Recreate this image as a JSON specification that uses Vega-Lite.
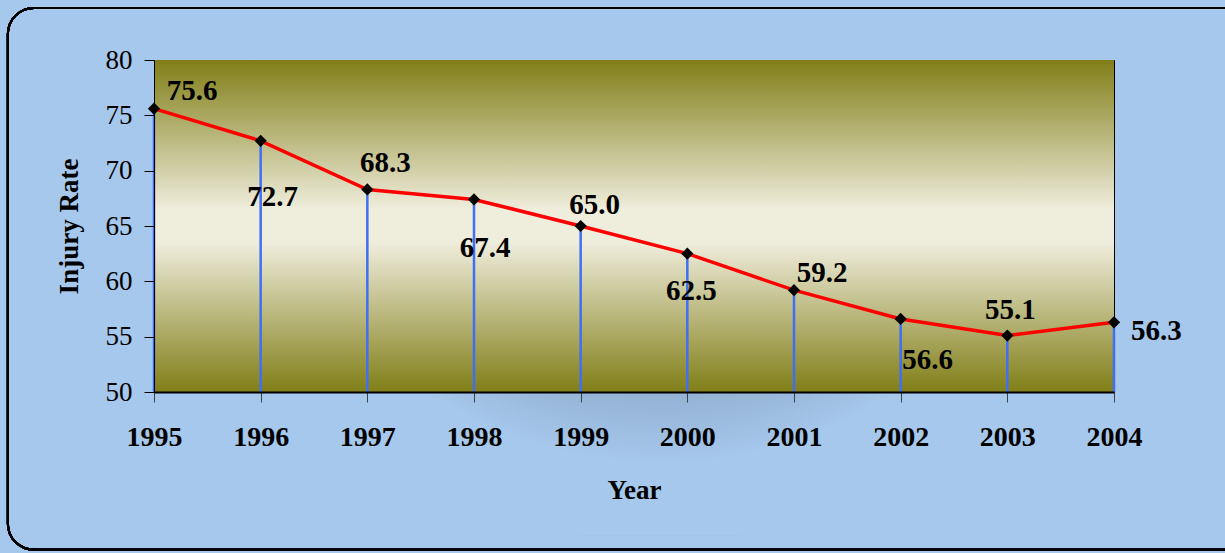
{
  "$schema": "https://vega.github.io/schema/vega-lite/v6.json",
  "width": 960,
  "height": 332,
  "autosize": {"type": "none"},
  "padding": {"left": 154, "top": 60, "right": 111, "bottom": 161},
  "background": "#a6c8ec",
  "config": {
    "view": {"stroke": "#000000", "strokeWidth": 1},
    "font": "Liberation Serif",
    "axis": {"grid": false, "labelFont": "Liberation Serif", "titleFont": "Liberation Serif", "labelColor": "#000000", "titleColor": "#000000"},
    "text": {"font": "Liberation Serif", "fontWeight": "bold", "fontSize": 29, "align": "center", "baseline": "alphabetic", "color": "#000000"}
  },
  "datasets": {
    "injury": [
      {"year": 1995, "rate": 75.6},
      {"year": 1996, "rate": 72.7},
      {"year": 1997, "rate": 68.3},
      {"year": 1998, "rate": 67.4},
      {"year": 1999, "rate": 65.0},
      {"year": 2000, "rate": 62.5},
      {"year": 2001, "rate": 59.2},
      {"year": 2002, "rate": 56.6},
      {"year": 2003, "rate": 55.1},
      {"year": 2004, "rate": 56.3}
    ]
  },
  "data": {"name": "injury"},
  "layer": [
    {
      "mark": {
        "type": "rect",
        "color": {
          "gradient": "radial", "x1": 0.55, "y1": 0.0, "r1": 0, "x2": 0.55, "y2": 0.0, "r2": 0.5,
          "stops": [
            {"offset": 0, "color": "#7089a8"},
            {"offset": 0.55, "color": "#7d97b8"},
            {"offset": 0.8, "color": "#90adcf"},
            {"offset": 1, "color": "#a6c8ec"}
          ]
        }
      },
      "encoding": {
        "x": {"datum": 1995.4, "type": "quantitative"},
        "x2": {"datum": 2003.3},
        "y": {"datum": 50, "type": "quantitative"},
        "y2": {"datum": 37}
      }
    },
    {
      "mark": {
        "type": "rect",
        "color": {
          "gradient": "linear", "x1": 0, "y1": 0, "x2": 0, "y2": 1,
          "stops": [
            {"offset": 0, "color": "#817e18"},
            {"offset": 0.45, "color": "#efeddc"},
            {"offset": 0.55, "color": "#efeddc"},
            {"offset": 1, "color": "#817e18"}
          ]
        }
      },
      "encoding": {
        "x": {"datum": 1995, "type": "quantitative"},
        "x2": {"datum": 2004},
        "y": {"datum": 80, "type": "quantitative"},
        "y2": {"datum": 50}
      }
    },
    {
      "mark": {"type": "rule", "color": "#3f6ff5", "strokeWidth": 2.5},
      "encoding": {
        "x": {"field": "year", "type": "quantitative"},
        "y": {"field": "rate", "type": "quantitative"},
        "y2": {"datum": 50}
      }
    },
    {
      "mark": {"type": "line", "color": "#ff0000", "strokeWidth": 3.5},
      "encoding": {
        "x": {"field": "year", "type": "quantitative"},
        "y": {"field": "rate", "type": "quantitative"}
      }
    },
    {
      "mark": {"type": "point", "shape": "diamond", "filled": true, "color": "#000000", "size": 150, "opacity": 1},
      "encoding": {
        "x": {"field": "year", "type": "quantitative"},
        "y": {"field": "rate", "type": "quantitative"}
      }
    },
    {"transform": [{"filter": "datum.year == 1995"}], "mark": {"type": "text", "dx": 38, "dy": -9},
     "encoding": {"x": {"field": "year", "type": "quantitative"}, "y": {"field": "rate", "type": "quantitative"}, "text": {"field": "rate", "type": "quantitative", "format": ".1f"}}},
    {"transform": [{"filter": "datum.year == 1996"}], "mark": {"type": "text", "dx": 12, "dy": 65},
     "encoding": {"x": {"field": "year", "type": "quantitative"}, "y": {"field": "rate", "type": "quantitative"}, "text": {"field": "rate", "type": "quantitative", "format": ".1f"}}},
    {"transform": [{"filter": "datum.year == 1997"}], "mark": {"type": "text", "dx": 18, "dy": -17},
     "encoding": {"x": {"field": "year", "type": "quantitative"}, "y": {"field": "rate", "type": "quantitative"}, "text": {"field": "rate", "type": "quantitative", "format": ".1f"}}},
    {"transform": [{"filter": "datum.year == 1998"}], "mark": {"type": "text", "dx": 11, "dy": 58},
     "encoding": {"x": {"field": "year", "type": "quantitative"}, "y": {"field": "rate", "type": "quantitative"}, "text": {"field": "rate", "type": "quantitative", "format": ".1f"}}},
    {"transform": [{"filter": "datum.year == 1999"}], "mark": {"type": "text", "dx": 14, "dy": -12},
     "encoding": {"x": {"field": "year", "type": "quantitative"}, "y": {"field": "rate", "type": "quantitative"}, "text": {"field": "rate", "type": "quantitative", "format": ".1f"}}},
    {"transform": [{"filter": "datum.year == 2000"}], "mark": {"type": "text", "dx": 4, "dy": 46},
     "encoding": {"x": {"field": "year", "type": "quantitative"}, "y": {"field": "rate", "type": "quantitative"}, "text": {"field": "rate", "type": "quantitative", "format": ".1f"}}},
    {"transform": [{"filter": "datum.year == 2001"}], "mark": {"type": "text", "dx": 28, "dy": -8},
     "encoding": {"x": {"field": "year", "type": "quantitative"}, "y": {"field": "rate", "type": "quantitative"}, "text": {"field": "rate", "type": "quantitative", "format": ".1f"}}},
    {"transform": [{"filter": "datum.year == 2002"}], "mark": {"type": "text", "dx": 27, "dy": 50},
     "encoding": {"x": {"field": "year", "type": "quantitative"}, "y": {"field": "rate", "type": "quantitative"}, "text": {"field": "rate", "type": "quantitative", "format": ".1f"}}},
    {"transform": [{"filter": "datum.year == 2003"}], "mark": {"type": "text", "dx": 3, "dy": -17},
     "encoding": {"x": {"field": "year", "type": "quantitative"}, "y": {"field": "rate", "type": "quantitative"}, "text": {"field": "rate", "type": "quantitative", "format": ".1f"}}},
    {"transform": [{"filter": "datum.year == 2004"}], "mark": {"type": "text", "align": "left", "dx": 17, "dy": 18},
     "encoding": {"x": {"field": "year", "type": "quantitative"}, "y": {"field": "rate", "type": "quantitative"}, "text": {"field": "rate", "type": "quantitative", "format": ".1f"}}},
    {
      "mark": {"type": "rect", "fill": null, "stroke": "#000000", "strokeWidth": 2, "cornerRadius": 26},
      "encoding": {
        "x": {"datum": 1993.63, "type": "quantitative"},
        "x2": {"datum": 2005.6},
        "y": {"datum": 84.7, "type": "quantitative"},
        "y2": {"datum": 35.75}
      }
    }
  ],
  "encoding": {
    "x": {
      "type": "quantitative",
      "scale": {"domain": [1995, 2004], "nice": false, "zero": false},
      "axis": {
        "zindex": 2,
        "values": [1995, 1996, 1997, 1998, 1999, 2000, 2001, 2002, 2003, 2004],
        "format": "d", "title": "Year",
        "labelFontSize": 28, "labelFontWeight": "bold", "labelPadding": 21,
        "titleFontSize": 27, "titleFontWeight": "bold", "titlePadding": 26,
        "domainColor": "#000000", "domainWidth": 2,
        "tickColor": "#404040", "tickSize": 10, "labelFlush": false
      }
    },
    "y": {
      "type": "quantitative",
      "scale": {"domain": [50, 80], "nice": false, "zero": false},
      "axis": {
        "zindex": 2,
        "values": [50, 55, 60, 65, 70, 75, 80],
        "title": "Injury Rate",
        "labelFontSize": 27, "labelPadding": 12,
        "titleFontSize": 27, "titleFontWeight": "bold", "titlePadding": 22,
        "domainColor": "#000000", "tickColor": "#000000", "tickSize": 10
      }
    }
  }
}
